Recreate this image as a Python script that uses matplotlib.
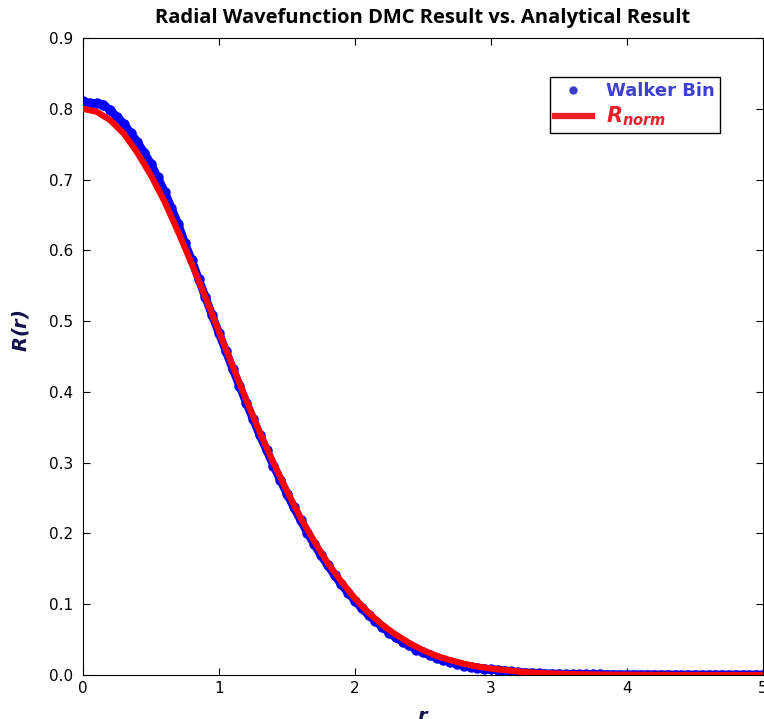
import numpy as np
import matplotlib.pyplot as plt
from matplotlib.lines import Line2D

# analytical radial wavefunction
r_norm_r = np.round(np.arange(0, 5.001, 0.1), 1)
r_norm_vals = [0.800, 0.796, 0.784, 0.765, 0.738, 0.706, 0.669, 0.626, 0.581, 0.534,
               0.485, 0.437, 0.389, 0.343, 0.300, 0.260, 0.222, 0.189, 0.158, 0.132,
               0.108, 0.088, 0.071, 0.057, 0.045, 0.035, 0.027, 0.021, 0.016, 0.012,
               0.009, 0.007, 0.005, 0.0035, 0.0025, 0.0018, 0.0012, 0.0009, 0.0006, 0.0004,
               0.0003, 0.0002, 0.0001, 0.0001, 0.0, 0.0, 0.0, 0.0, 0.0, 0.0, 0.0]

# walker bin histogram (DMC)
bin_r = np.round(np.arange(0, 5.001, 0.05), 2)
bin_vals = [0.811, 0.808, 0.808, 0.806, 0.798, 0.789, 0.779, 0.766, 0.753, 0.738,
            0.722, 0.703, 0.683, 0.660, 0.637, 0.610, 0.586, 0.560, 0.534, 0.508,
            0.483, 0.458, 0.433, 0.409, 0.385, 0.362, 0.339, 0.318, 0.296, 0.276,
            0.256, 0.237, 0.219, 0.201, 0.185, 0.169, 0.155, 0.141, 0.128, 0.116,
            0.105, 0.094, 0.085, 0.076, 0.068, 0.060, 0.053, 0.047, 0.042, 0.036,
            0.032, 0.028, 0.024, 0.021, 0.018, 0.016, 0.013, 0.012, 0.010, 0.009,
            0.008, 0.007, 0.006, 0.005, 0.004, 0.0035, 0.003, 0.0025, 0.002, 0.0018,
            0.0015, 0.0013, 0.0011, 0.001, 0.0009, 0.0008, 0.0008, 0.0007, 0.0007, 0.0006,
            0.0006, 0.0006, 0.0005, 0.0005, 0.0005, 0.0005, 0.0005, 0.0004, 0.0004, 0.0004,
            0.0004, 0.0004, 0.0004, 0.0004, 0.0004, 0.0004, 0.0004, 0.0004, 0.0004, 0.0004,
            0.0004]

fig = plt.figure(figsize=(7.64, 7.19), dpi=100)
ax = fig.add_axes([0.1086, 0.0612, 0.8901, 0.8859])

ax.plot(bin_r, bin_vals, '-', color='blue', lw=6, solid_capstyle='round', zorder=2)
ax.plot(bin_r, bin_vals, 'o', color='blue', ms=6.5, mec='blue', zorder=2)
ax.plot(r_norm_r, r_norm_vals, '-', color='red', lw=4.5, zorder=3)

ax.set_xlim(0, 5)
ax.set_ylim(0, 0.9)
ax.set_xticks(range(6))
ax.set_yticks(np.arange(0, 0.91, 0.1))
ax.set_yticklabels([f'{v:.1f}' for v in np.arange(0, 0.91, 0.1)])
ax.tick_params(direction='in', top=True, right=True, labelsize=11, length=5)
ax.tick_params(axis='x', pad=4)
ax.tick_params(axis='y', pad=7)

ax.set_title('Radial Wavefunction DMC Result vs. Analytical Result',
             family='Open Sans', fontweight='bold', fontsize=14.5, pad=11)
ax.set_ylabel(r'$\mathbfit{R(r)}$', fontsize=14, color='#10104a')
ax.yaxis.set_label_coords(-0.076, 0.54)
ax.set_xlabel(r'$\mathbfit{r}$', fontsize=14, color='#10104a')
ax.xaxis.set_label_coords(0.5, -0.05)

handles = [
    Line2D([0], [0], marker='o', color='w', markerfacecolor='#3a3ac8',
           markeredgecolor='#3a3ac8', markersize=5),
    Line2D([0], [0], color='#e8202a', lw=4.5),
]
leg = ax.legend(handles, ['Walker Bin', r'$\mathbfit{R}_{\mathbfit{norm}}$'],
                loc='upper right', bbox_to_anchor=(0.937, 0.939), borderaxespad=0,
                fancybox=False, edgecolor='black', framealpha=1,
                handlelength=2.0, borderpad=0.3, labelspacing=0.2,
                prop={'size': 13, 'weight': 'bold'})
leg.get_frame().set_linewidth(1)
leg.get_texts()[0].set_color('#4040d0')
leg.get_texts()[1].set_color('#e8202a')
leg.get_texts()[1].set_fontsize(15)

fig.savefig('out.png', dpi=100)
